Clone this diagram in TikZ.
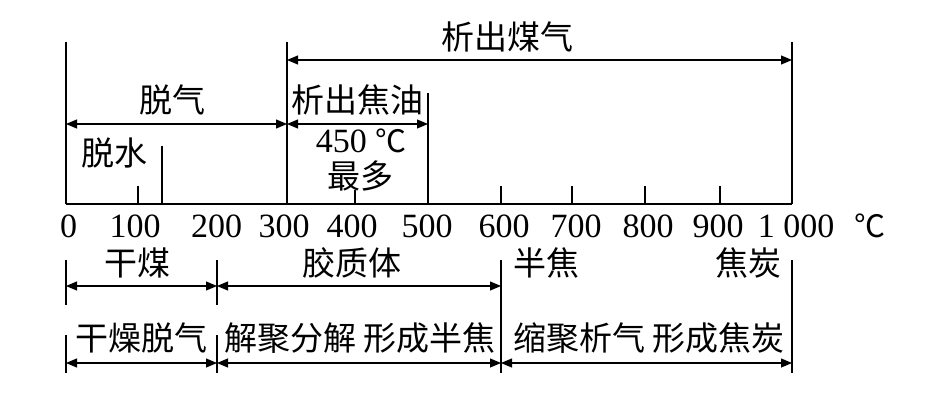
\documentclass[tikz,border=0pt]{standalone}
\usepackage{fontspec}
\setmainfont{Liberation Serif}
\newfontfamily\cjk{Noto Sans CJK SC}
\usetikzlibrary{arrows.meta}
\begin{document}
\begin{tikzpicture}[x=1pt,y=-1pt,line width=1.1pt,
  lbl/.style={inner sep=0pt,font=\fontsize{33}{36}\selectfont\cjk},
  num/.style={inner sep=0pt,font=\fontsize{34}{37}\selectfont},
  dim/.style={{Triangle[length=11pt,width=9pt]}-{Triangle[length=11pt,width=9pt]}}]
\useasboundingbox (0,0) rectangle (945,402);
% frame coordinates
\coordinate (t0) at (66,42);   \coordinate (b0) at (66,204);
\coordinate (t3) at (287,42);  \coordinate (b3) at (287,204);
\coordinate (t10) at (792,42); \coordinate (b10) at (792,204);
\coordinate (t5) at (428,93);  \coordinate (b5) at (428,204);
\coordinate (tw) at (162,146); \coordinate (bw) at (162,204);
\foreach \n/\x/\y in {1/138/186,4/355/190,6/501/186,7/572/186,8/645/186,9/720/186}{
  \coordinate (tk\n) at (\x,\y); \coordinate (bk\n) at (\x,204);
  \draw (tk\n) -- (bk\n);
}
\draw (t0) -- (b0);
\draw (t3) -- (b3);
\draw (t10) -- (b10);
\draw (t5) -- (b5);
\draw (tw) -- (bw);
\draw (b0) -- (b10);
% top arrows
\coordinate (g1) at (287,60); \coordinate (g2) at (792,60);
\draw[dim] (g1) -- (g2);
\coordinate (d1) at (66,124); \coordinate (d2) at (287,124); \coordinate (d3) at (428,124);
\draw[dim] (d1) -- (d2);
\draw[dim] (d2) -- (d3);
% top labels
\node[lbl] (gas) at (507,37) {析出煤气};
\node[lbl] (degas) at (172,100) {脱气};
\node[lbl] (tar) at (357,100) {析出焦油};
\node[inner sep=0pt] (t450) at (361,141) {\fontsize{34}{37}\selectfont 450\hspace{0.25em}{\cjk\fontsize{31}{34}\selectfont ℃}};
\node[lbl] (most) at (360,176) {最多};
\node[lbl] (water) at (114,153) {脱水};
% axis numbers
\foreach \lab/\x [count=\i] in {0/68.5,100/135,200/216.5,300/284,400/352,500/427,600/504,700/576,800/648,900/718}{
  \node[num] (n\i) at (\x,226) {\lab};
}
\node[num] (n11) at (796,226) {1\hspace{0.25em}000};
\node[inner sep=0pt,font=\fontsize{31}{34}\selectfont\cjk] (unit) at (870,226) {℃};
% bottom frame
\coordinate (u0a) at (66,260);  \coordinate (u0b) at (66,305);
\coordinate (u0c) at (66,335);  \coordinate (u0d) at (66,373);
\coordinate (u2a) at (217,260); \coordinate (u2b) at (217,305);
\coordinate (u2c) at (217,335); \coordinate (u2d) at (217,373);
\coordinate (u6a) at (501,260); \coordinate (u6d) at (501,373);
\coordinate (u10a) at (792,260); \coordinate (u10d) at (792,373);
\draw (u0a) -- (u0b); \draw (u0c) -- (u0d);
\draw (u2a) -- (u2b); \draw (u2c) -- (u2d);
\draw (u6a) -- (u6d);
\draw (u10a) -- (u10d);
% bottom arrows
\coordinate (r1a) at (66,286); \coordinate (r1b) at (217,286); \coordinate (r1c) at (501,286);
\draw[dim] (r1a) -- (r1b);
\draw[dim] (r1b) -- (r1c);
\coordinate (r2a) at (66,363); \coordinate (r2b) at (217,363); \coordinate (r2c) at (501,363); \coordinate (r2d) at (792,363);
\draw[dim] (r2a) -- (r2b);
\draw[dim] (r2b) -- (r2c);
\draw[dim] (r2c) -- (r2d);
% bottom labels
\node[lbl] (drycoal) at (137.5,263) {干煤};
\node[lbl] (plastic) at (352,263) {胶质体};
\node[lbl] (semi) at (546,263) {半焦};
\node[lbl] (coke) at (748,263) {焦炭};
\node[lbl] (s1) at (141,338) {干燥脱气};
\node[lbl] (s2) at (360,338) {解聚分解\hspace{0.2em}形成半焦};
\node[lbl] (s3) at (649,338) {缩聚析气\hspace{0.2em}形成焦炭};
\end{tikzpicture}
\end{document}
